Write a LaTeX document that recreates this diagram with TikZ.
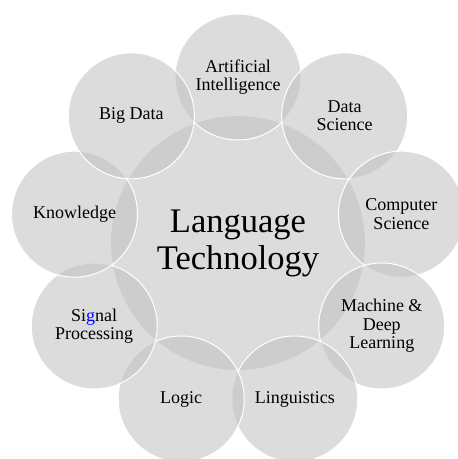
\documentclass[tikz,border=0pt]{standalone}
\usepackage{fontspec}
\setmainfont{Liberation Serif}
\definecolor{bubble}{RGB}{194,194,194}

\begin{document}
\begin{tikzpicture}[x=1pt, y=1pt,
  hub/.style={circle, fill=bubble, fill opacity=.57, text opacity=1, minimum size=254pt, inner sep=0pt, align=center, font=\fontsize{34.5}{37}\selectfont},
  topic/.style={circle, draw=white, line width=1pt, fill=bubble, fill opacity=.57, text opacity=1, minimum size=126pt, inner sep=0pt, align=center, font=\fontsize{18}{18.5}\selectfont}]
\useasboundingbox (-238,-216) rectangle (220,243);
\clip (-238,-216) rectangle (220,243);

% centre, then the ring going round clockwise from the top
\node [hub] (lt) at (0,0) {Language\\Technology};
\node [topic] (ai) at (90:166) {Artificial\\Intelligence};
\node [topic] (datasci) at (50:166) {Data\\Science};
\node [topic] (compsci) at (10:166) {Computer\\Science};
\node [topic] (ml) at (-30:166) {Machine \&\\Deep\\Learning};
\node [topic] (ling) at (-70:166) {Linguistics};
\node [topic] (logic) at (-110:166) {Logic};
\node [topic] (signal) at (-150:166) {Si\textcolor{blue}{g}nal\\Processing};
\node [topic] (knowl) at (170:166) {Knowledge};
\node [topic] (bigdata) at (130:166) {Big Data};
\end{tikzpicture}
\end{document}
